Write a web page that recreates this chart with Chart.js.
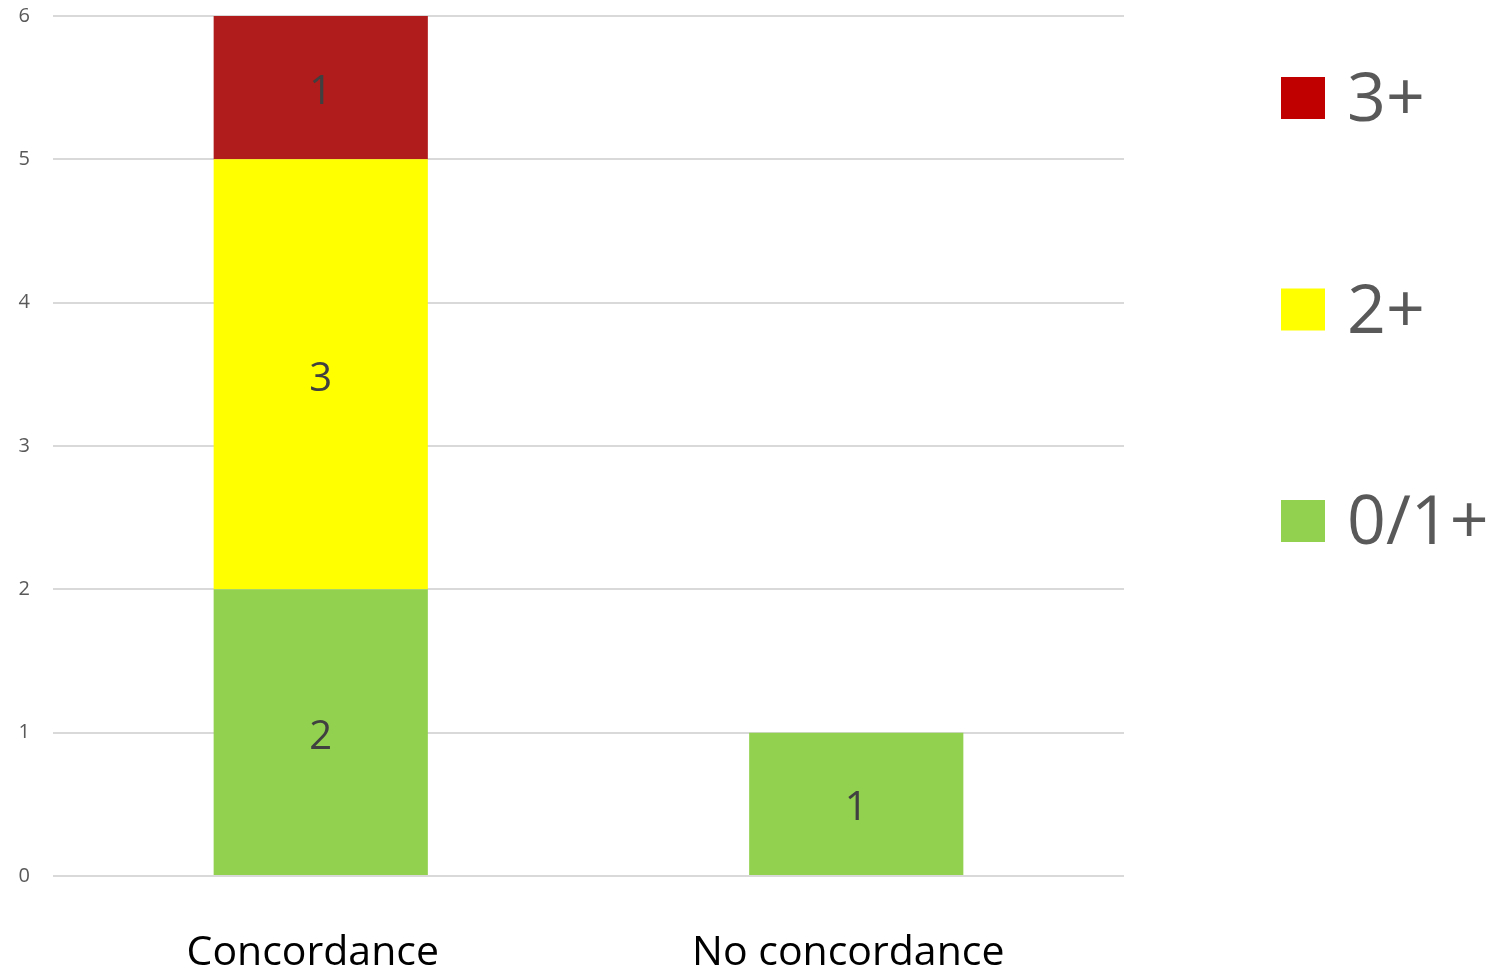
<!DOCTYPE html>
<html>
<head>
<meta charset="utf-8">
<script src="https://cdn.jsdelivr.net/npm/chart.js@4/dist/chart.umd.min.js"></script>
<style>
  html, body { margin: 0; padding: 0; background: #ffffff; }
  #wrap { width: 1498px; height: 971px; position: relative; }
</style>
</head>
<body>
<div id="wrap"><canvas id="chart"></canvas></div>
<script>
// Categories and the three stacked HER2 score groups
const categories = ['Concordance', 'No concordance'];
const seriesNames = ['0/1+', '2+', '3+'];
const score01 = [2, 1];
const score2 = [3, 0];
const score3 = [1, 0];
const yMin = 0;
const yMax = 6;
const yStep = 1;

const barColors = ['#92D050', '#FFFF00', '#B01C1C'];
const legendColors = ['#92D050', '#FFFF00', '#C00000'];
const FONT = "'Open Sans', 'Noto Sans', sans-serif";

// Writes each non-zero value in the middle of its bar segment
const segmentLabels = {
  id: 'segmentLabels',
  afterDatasetsDraw(chart) {
    const ctx = chart.ctx;
    ctx.save();
    ctx.font = '40px ' + FONT;
    ctx.fillStyle = '#404040';
    ctx.textAlign = 'center';
    ctx.textBaseline = 'middle';
    chart.data.datasets.forEach((ds, di) => {
      const meta = chart.getDatasetMeta(di);
      meta.data.forEach((bar, i) => {
        const v = ds.data[i];
        if (!v) return;
        ctx.fillText(String(v), bar.x, (bar.y + bar.base) / 2 + 5);
      });
    });
    ctx.restore();
  }
};

// Vertical legend to the right of the plot, top series first
const sideLegend = {
  id: 'sideLegend',
  afterDraw(chart, args, opts) {
    const ctx = chart.ctx;
    const area = chart.chartArea;
    const n = chart.data.datasets.length;
    ctx.save();
    ctx.font = opts.fontSize + 'px ' + FONT;
    ctx.textAlign = 'left';
    ctx.textBaseline = 'middle';
    for (let k = 0; k < n; k++) {
      const di = n - 1 - k;
      const ds = chart.data.datasets[di];
      const cy = area.top + opts.firstOffset + k * opts.step;
      const bx = area.right + opts.gap;
      ctx.fillStyle = opts.colors[di];
      ctx.fillRect(bx, cy - opts.boxH / 2, opts.boxW, opts.boxH);
      ctx.fillStyle = '#595959';
      ctx.fillText(ds.label, bx + opts.boxW + opts.textGap, cy + 4);
    }
    ctx.restore();
  }
};

const datasets = [score01, score2, score3].map((vals, i) => ({
  label: seriesNames[i],
  data: vals,
  backgroundColor: barColors[i],
  borderWidth: 0,
  categoryPercentage: 0.8,
  barPercentage: 0.5
}));

new Chart(document.getElementById('chart'), {
  type: 'bar',
  data: { labels: categories, datasets },
  plugins: [segmentLabels, sideLegend],
  options: {
    responsive: true,
    maintainAspectRatio: false,
    animation: false,
    layout: { padding: { top: 16, right: 374, left: 0, bottom: 0 } },
    plugins: {
      legend: { display: false },
      tooltip: { enabled: false },
      sideLegend: {
        colors: legendColors,
        fontSize: 68,
        boxW: 44,
        boxH: 42,
        gap: 157,
        textGap: 22,
        firstOffset: 82,
        step: 211.5
      }
    },
    scales: {
      x: {
        stacked: true,
        grid: { display: false },
        border: { display: false },
        ticks: { color: '#000000', font: { family: FONT, size: 41 }, padding: 45, labelOffset: -8 },
        afterFit(scale) { scale.height = 95; scale.paddingLeft = 0; scale.paddingRight = 0; }
      },
      y: {
        stacked: true,
        min: yMin,
        max: yMax,
        ticks: { stepSize: yStep, color: '#595959', font: { family: FONT, size: 20 }, padding: 23 },
        grid: { color: '#D9D9D9', lineWidth: 2, drawTicks: false },
        border: { display: false },
        afterFit(scale) { scale.width = 53; scale.paddingTop = 0; scale.paddingBottom = 0; }
      }
    }
  }
});
</script>
</body>
</html>
